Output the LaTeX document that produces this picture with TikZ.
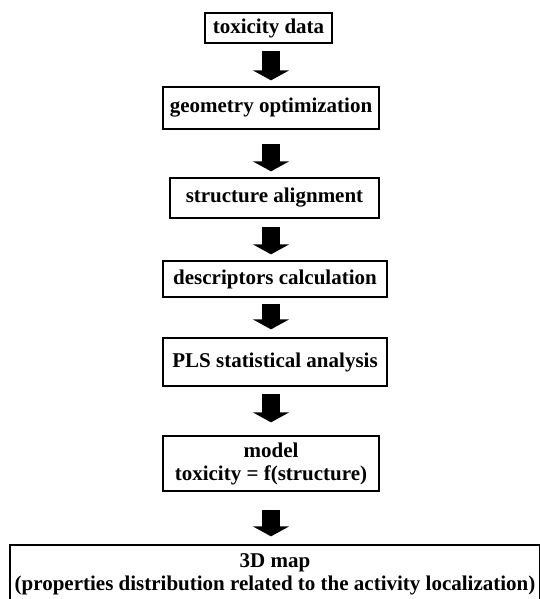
\documentclass[tikz,border=0pt]{standalone}
\usepackage{fontspec}
\setmainfont{Liberation Serif}
\usetikzlibrary{arrows.meta}
\begin{document}
\begin{tikzpicture}[x=1pt,y=1pt,
  box/.style={draw=black, line width=1.3pt, fill=white, inner sep=0pt, align=center,
    font=\fontsize{21}{23}\selectfont\bfseries},
  bigarrow/.style={line width=18pt, -{Triangle[width=36pt,length=10pt]}}]
\useasboundingbox (0,0) rectangle (540,-599);
\node[box, minimum width=127, minimum height=30] (b1) at (268.5,-28) {toxicity data};
\node[box, minimum width=216, minimum height=42] (b2) at (271,-108) {geometry optimization};
\node[box, minimum width=209, minimum height=40] (b3) at (274.5,-198) {structure alignment};
\node[box, minimum width=224, minimum height=36] (b4) at (275,-279) {descriptors calculation};
\node[box, minimum width=224, minimum height=48] (b5) at (275,-362) {PLS statistical analysis};
\node[box, minimum width=216, minimum height=55] (b6) at (271,-463.5) {model\\toxicity = f(structure)};
\node[box, minimum width=530, minimum height=58] (b7) at (275,-574) {3D map\\(properties distribution related to the activity localization)};
\coordinate (ax) at (271,0);
\draw[bigarrow, shorten <=7pt, shorten >=6pt] (b1.south -| ax) -- (b2.north -| ax);
\draw[bigarrow, shorten <=14pt, shorten >=6pt] (b2.south -| ax) -- (b3.north -| ax);
\draw[bigarrow, shorten <=8pt, shorten >=6pt] (b3.south -| ax) -- (b4.north -| ax);
\draw[bigarrow, shorten <=6pt, shorten >=8pt] (b4.south -| ax) -- (b5.north -| ax);
\draw[bigarrow, shorten <=7pt, shorten >=13pt] (b5.south -| ax) -- (b6.north -| ax);
\draw[bigarrow, shorten <=18pt, shorten >=8pt] (b6.south -| ax) -- (b7.north -| ax);
\end{tikzpicture}
\end{document}
